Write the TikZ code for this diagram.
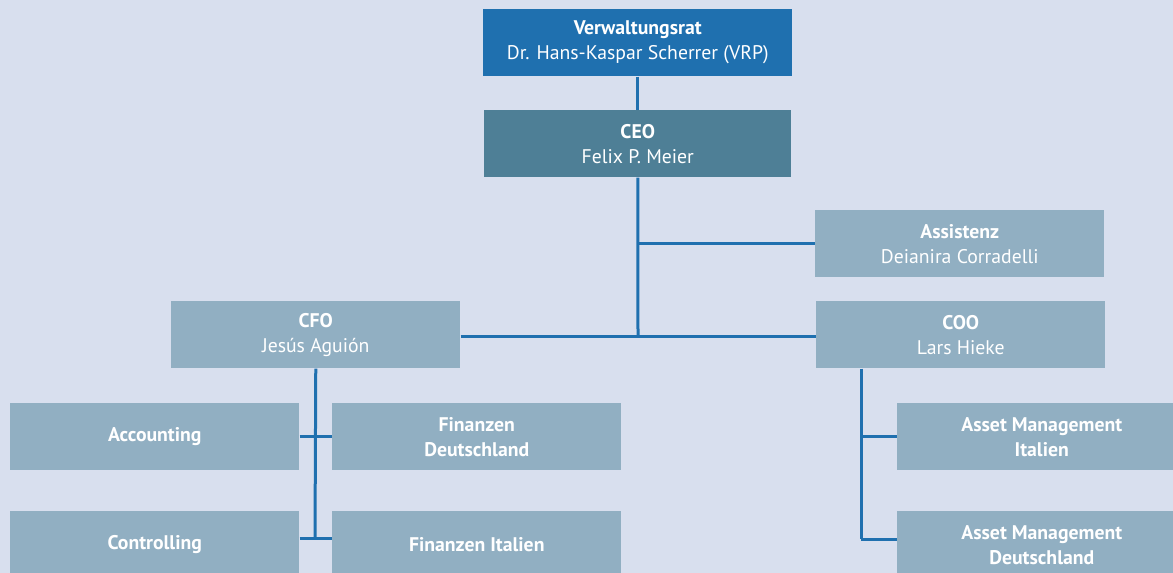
\documentclass[tikz,border=0pt]{standalone}
\usepackage{fontspec}
\setmainfont{PT Sans}
\definecolor{bg}{HTML}{D8DFEE}
\definecolor{vrblue}{HTML}{1F70AF}
\definecolor{ceoblue}{HTML}{4E7F96}
\definecolor{boxblue}{HTML}{91AFC2}
\definecolor{linecol}{HTML}{1F70AF}
\begin{document}
\begin{tikzpicture}[x=0.75pt,y=-0.75pt,
  box/.style={anchor=north west, fill=boxblue, text=white, inner sep=0pt, align=center,
    minimum width=216.75pt, minimum height=50.25pt,
    font=\fontsize{14.8}{18.75}\selectfont},
  topbox/.style={box, minimum width=231.75pt},
  conn/.style={draw=linecol, line width=2.25pt}]
\fill[bg] (0,0) rectangle (1173,573);
\useasboundingbox (0,0) rectangle (1173,573);
% nodes
\node[topbox, fill=vrblue] (vr) at (483,9) {\textbf{Verwaltungsrat}\\Dr. Hans-Kaspar Scherrer (VRP)};
\node[topbox, fill=ceoblue, minimum width=230.25pt] (ceo) at (484,110) {\textbf{CEO}\\Felix P. Meier};
\node[box] (as) at (815,210) {\textbf{Assistenz}\\Deianira Corradelli};
\node[box] (cfo) at (171,301) {\textbf{CFO}\\Jesús Aguión};
\node[box] (coo) at (816,301) {\textbf{COO}\\Lars Hieke};
\node[box] (acc) at (10,403) {\textbf{Accounting}};
\node[box] (fd) at (332,403) {\textbf{Finanzen}\\\textbf{Deutschland}};
\node[box] (ctl) at (10,511) {\textbf{Controlling}};
\node[box] (fi) at (332,511) {\textbf{Finanzen Italien}};
\node[box] (ami) at (897,403) {\textbf{Asset Management}\\\textbf{Italien}};
\node[box] (amd) at (897,511) {\textbf{Asset Management}\\\textbf{Deutschland}};
% helper coordinates
\coordinate (hub) at (638,336);
\coordinate (cfobot) at (315,538);
\coordinate (coobot) at (861,539);
% connectors
\draw[conn] (vr.south) -- (ceo.north);
\draw[conn] (ceo.south) -- (hub);
\draw[conn] (hub |- as.west) -- (as.west);
\draw[conn] (cfo.east |- hub) -- (coo.west |- hub);
\draw[conn] (cfo.south) -- (cfobot);
\draw[conn] (acc.east |- 0,436) -- (fd.west |- 0,436);
\draw[conn] (ctl.east |- cfobot) -- (fi.west |- cfobot);
\draw[conn] (coobot |- coo.south) -- (coobot);
\draw[conn] (coobot |- 0,436) -- (ami.west |- 0,436);
\draw[conn] (coobot) -- (amd.west |- coobot);
\end{tikzpicture}
\end{document}
